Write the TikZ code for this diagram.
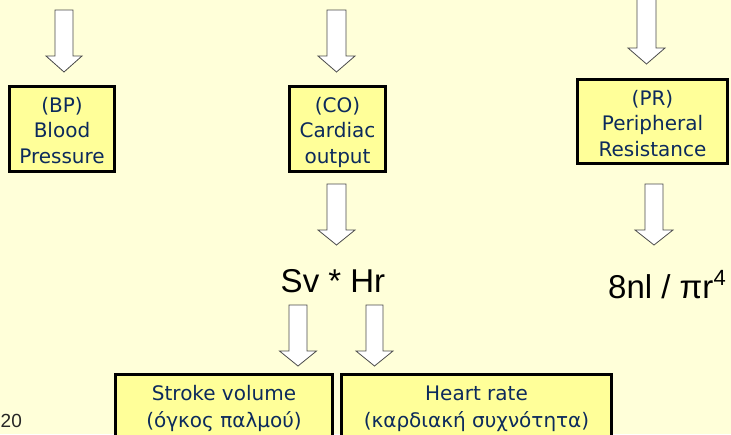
\documentclass[tikz,border=0pt]{standalone}
\usepackage{fontspec}
\setmainfont{DejaVu Sans}
\newfontfamily\arialf{Liberation Sans}
\definecolor{bg}{RGB}{255,255,217}
\definecolor{boxfill}{RGB}{255,255,153}
\definecolor{txt}{RGB}{12,42,92}
\newcommand\blockarrow[6]{% cx, top, head start, tip, half shaft, half head
  \draw[barrow] (#1-#5,#2) -- (#1+#5,#2) -- (#1+#5,#3) -- (#1+#6,#3) -- (#1,#4) -- (#1-#6,#3) -- (#1-#5,#3) -- cycle;}
\begin{document}
\begin{tikzpicture}[x=1pt,y=-1pt,
  box/.style={draw=black, line width=3pt, fill=boxfill, text=txt, align=center,
    font=\fontsize{20}{25.5}\selectfont, inner sep=0pt},
  boxtext/.style={text=txt, font=\fontsize{20}{25.5}\selectfont, anchor=base, inner sep=0pt},
  barrow/.style={draw=black!70, fill=white, line width=0.8pt, line join=miter},
  formula/.style={font=\arialf\fontsize{33}{33}\selectfont, inner sep=0pt}]
\useasboundingbox (0,0) rectangle (731,434);
\fill[bg] (0,0) rectangle (731,434);

% block arrows
\blockarrow{64}{10}{56}{72}{9}{18}
\blockarrow{336.5}{10}{56}{72}{9.5}{18.5}
\blockarrow{646.5}{-3}{48}{64}{9.5}{18.5}
\blockarrow{336.5}{184}{230}{245}{9.5}{18.5}
\blockarrow{654}{184}{230}{245}{9}{19}
\blockarrow{298}{305}{351}{366}{9}{18.5}
\blockarrow{374.5}{305}{351}{366}{8.5}{18.5}

% top boxes
\node[box, minimum width=105, minimum height=85] (bp) at (62,129) {};
\node[boxtext] (bp1) at (62,112) {(BP)};
\node[boxtext] (bp2) at (62,137.5) {Blood};
\node[boxtext] (bp3) at (62,163) {Pressure};

\node[box, minimum width=96, minimum height=85] (co) at (337.5,129) {};
\node[boxtext] (co1) at (337.5,112) {(CO)};
\node[boxtext] (co2) at (337.5,137.5) {Cardiac};
\node[boxtext] (co3) at (337.5,163) {output};

\node[box, minimum width=150, minimum height=84] (pr) at (652.5,121.5) {};
\node[boxtext] (pr1) at (652.5,105) {(PR)};
\node[boxtext] (pr2) at (652.5,130.5) {Peripheral};
\node[boxtext] (pr3) at (652.5,156) {Resistance};

% formulas
\node[formula, anchor=base] (svhr) at (333,292) {Sv * Hr};
\node[formula, anchor=base west] (res) at (608,298) {8nl / πr\raisebox{0.38em}{\fontsize{22}{22}\selectfont 4}};

% bottom boxes
\node[box, minimum width=217, minimum height=90] (sv) at (224,419.5) {};
\node[boxtext] (sv1) at (224,400) {Stroke volume};
\node[boxtext] (sv2) at (224,427) {(όγκος παλμού)};

\node[box, minimum width=270, minimum height=90] (hr) at (476.5,419.5) {};
\node[boxtext] (hr1) at (476.5,400) {Heart rate};
\node[boxtext] (hr2) at (476.5,427) {(καρδιακή συχνότητα)};

% page number
\node[anchor=base west, font=\arialf\fontsize{19}{19}\selectfont, text=black!85, inner sep=0pt] (pg) at (0.5,427) {20};
\end{tikzpicture}
\end{document}
